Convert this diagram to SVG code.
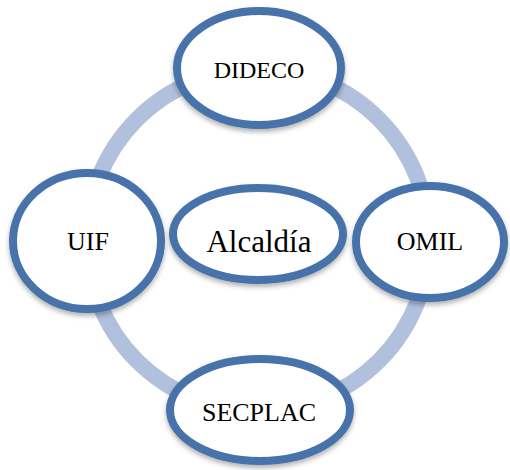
<svg xmlns="http://www.w3.org/2000/svg" width="510" height="470" viewBox="0 0 510 470">
<defs>
<filter id="sh" x="-20%" y="-20%" width="140%" height="150%">
<feDropShadow dx="0" dy="3" stdDeviation="2.5" flood-color="#000" flood-opacity="0.3"/>
</filter>
</defs>
<style>
.n{fill:#fff;stroke:#4672aa;stroke-width:8;filter:url(#sh)}
.t{font-family:"Liberation Serif","Times New Roman",serif;fill:#000;text-anchor:middle}
</style>
<rect width="510" height="470" fill="#fff"/>
<g id="connectors">
<circle cx="258" cy="240" r="171" fill="none" stroke="#b1c1dd" stroke-width="16"/>
</g>
<g id="dideco">
<ellipse class="n" cx="259" cy="68" rx="82" ry="57"/>
<text class="t" x="259" y="78" font-size="24">DIDECO</text>
</g>
<g id="uif">
<ellipse class="n" cx="87" cy="241" rx="74" ry="68"/>
<text class="t" x="88" y="250" font-size="26">UIF</text>
</g>
<g id="alcaldia">
<ellipse class="n" cx="258" cy="234" rx="85" ry="46"/>
<text class="t" x="259" y="252" font-size="31">Alcaldía</text>
</g>
<g id="omil">
<ellipse class="n" cx="430" cy="242" rx="74" ry="56"/>
<text class="t" x="430" y="250" font-size="26">OMIL</text>
</g>
<g id="secplac">
<ellipse class="n" cx="260" cy="410" rx="90" ry="51"/>
<text class="t" x="259" y="421" font-size="26">SECPLAC</text>
</g>
</svg>
